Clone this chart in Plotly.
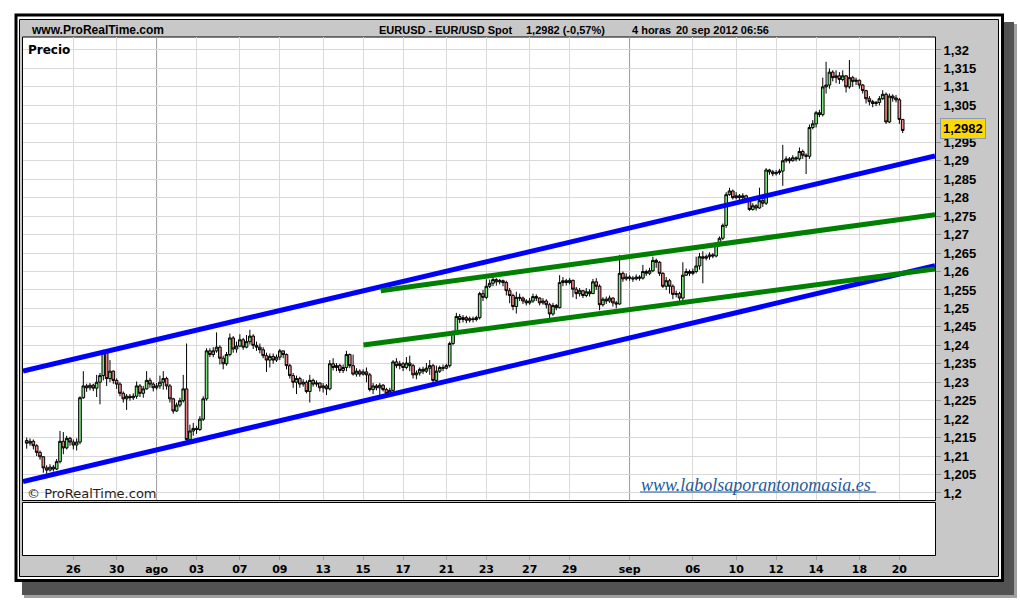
import plotly.graph_objects as go

# ---------------- data (EUR/USD, 4-hour candles) ----------------
first_open = 1.2142
close = [
    1.2135, 1.2140, 1.2128, 1.2110, 1.2098, 1.2068, 1.2062, 1.2070, 1.2065, 1.2085,
    1.2140, 1.2122, 1.2148, 1.2138, 1.2130, 1.2138, 1.2258, 1.2290, 1.2285, 1.2292,
    1.2284, 1.2300, 1.2318, 1.2380, 1.2310, 1.2330, 1.2305, 1.2295, 1.2270, 1.2255,
    1.2262, 1.2258, 1.2262, 1.2290, 1.2270, 1.2282, 1.2305, 1.2295, 1.2285, 1.2290,
    1.2300, 1.2310, 1.2290, 1.2255, 1.2222, 1.2238, 1.2250, 1.2282, 1.2145, 1.2168,
    1.2175, 1.2172, 1.2200, 1.2255, 1.2385, 1.2375, 1.2385, 1.2395, 1.2365, 1.2350,
    1.2375, 1.2420, 1.2390, 1.2398, 1.2415, 1.2395, 1.2410, 1.2425, 1.2400, 1.2395,
    1.2388, 1.2372, 1.2360, 1.2370, 1.2360, 1.2368, 1.2385, 1.2375, 1.2345, 1.2318,
    1.2300, 1.2310, 1.2295, 1.2300, 1.2275, 1.2305, 1.2295, 1.2298, 1.2285, 1.2290,
    1.2282, 1.2350, 1.2340, 1.2345, 1.2332, 1.2340, 1.2375, 1.2345, 1.2322, 1.2330,
    1.2322, 1.2328, 1.2320, 1.2280, 1.2290, 1.2285, 1.2292, 1.2280, 1.2270, 1.2278,
    1.2355, 1.2345, 1.2350, 1.2340, 1.2352, 1.2345, 1.2320, 1.2325, 1.2335, 1.2330,
    1.2338, 1.2345, 1.2305, 1.2330, 1.2340, 1.2338, 1.2345, 1.2405, 1.2435, 1.2478,
    1.2470, 1.2475, 1.2468, 1.2472, 1.2470, 1.2475, 1.2540, 1.2530, 1.2560, 1.2568,
    1.2578, 1.2572, 1.2575, 1.2570, 1.2548, 1.2535, 1.2505, 1.2530, 1.2528, 1.2520,
    1.2515, 1.2520, 1.2532, 1.2528, 1.2515, 1.2520, 1.2510, 1.2485, 1.2508, 1.2502,
    1.2570, 1.2575, 1.2570, 1.2576, 1.2552, 1.2540, 1.2548, 1.2535, 1.2545, 1.2540,
    1.2572, 1.2560, 1.2510, 1.2525, 1.2520, 1.2528, 1.2515, 1.2512, 1.2595, 1.2580,
    1.2585, 1.2582, 1.2580, 1.2585, 1.2582, 1.2600, 1.2595, 1.2602, 1.2630, 1.2625,
    1.2595, 1.2560, 1.2575, 1.2560, 1.2538, 1.2540, 1.2528, 1.2590, 1.2600, 1.2595,
    1.2600, 1.2615, 1.2640, 1.2636, 1.2640, 1.2645, 1.2642, 1.2672, 1.2690, 1.2725,
    1.2808, 1.2818, 1.2800, 1.2805, 1.2800, 1.2805, 1.2795, 1.2768, 1.2778, 1.2772,
    1.2792, 1.2785, 1.2875, 1.2870, 1.2865, 1.2868, 1.2872, 1.2900, 1.2905, 1.2900,
    1.2908, 1.2905, 1.2925, 1.2915, 1.2912, 1.2990, 1.3000, 1.3030, 1.3025, 1.3100,
    1.3105, 1.3140, 1.3125, 1.3130, 1.3120, 1.3130, 1.3100, 1.3125, 1.3115, 1.3118,
    1.3105, 1.3090, 1.3068, 1.3060, 1.3055, 1.3058, 1.3068, 1.3080, 1.3005, 1.3075,
    1.3070, 1.3065, 1.3012, 1.2982,
]
high = [
    1.2150, 1.2148, 1.2145, 1.2132, 1.2115, 1.2100, 1.2075, 1.2078, 1.2076, 1.2092,
    1.2168, 1.2165, 1.2155, 1.2152, 1.2145, 1.2148, 1.2262, 1.2330, 1.2296, 1.2298,
    1.2296, 1.2320, 1.2325, 1.2388, 1.2385, 1.2360, 1.2332, 1.2310, 1.2300, 1.2275,
    1.2268, 1.2268, 1.2270, 1.2302, 1.2295, 1.2290, 1.2330, 1.2312, 1.2300, 1.2298,
    1.2318, 1.2330, 1.2315, 1.2295, 1.2258, 1.2245, 1.2258, 1.2320, 1.2405, 1.2185,
    1.2190, 1.2182, 1.2208, 1.2262, 1.2392, 1.2392, 1.2395, 1.2435, 1.2400, 1.2372,
    1.2382, 1.2432, 1.2425, 1.2410, 1.2430, 1.2420, 1.2428, 1.2442, 1.2430, 1.2410,
    1.2405, 1.2395, 1.2380, 1.2378, 1.2378, 1.2375, 1.2390, 1.2385, 1.2378, 1.2350,
    1.2325, 1.2318, 1.2315, 1.2308, 1.2305, 1.2320, 1.2310, 1.2305, 1.2300, 1.2298,
    1.2295, 1.2360, 1.2365, 1.2352, 1.2350, 1.2348, 1.2385, 1.2378, 1.2375, 1.2338,
    1.2335, 1.2335, 1.2340, 1.2325, 1.2298, 1.2295, 1.2298, 1.2295, 1.2285, 1.2285,
    1.2360, 1.2365, 1.2358, 1.2355, 1.2368, 1.2372, 1.2350, 1.2332, 1.2340, 1.2342,
    1.2352, 1.2360, 1.2350, 1.2345, 1.2345, 1.2348, 1.2350, 1.2410, 1.2440, 1.2488,
    1.2485, 1.2482, 1.2480, 1.2478, 1.2478, 1.2480, 1.2545, 1.2550, 1.2579, 1.2578,
    1.2585, 1.2582, 1.2580, 1.2578, 1.2575, 1.2555, 1.2540, 1.2545, 1.2540, 1.2532,
    1.2525, 1.2528, 1.2540, 1.2538, 1.2530, 1.2528, 1.2525, 1.2515, 1.2515, 1.2512,
    1.2590, 1.2585, 1.2580, 1.2582, 1.2578, 1.2558, 1.2555, 1.2550, 1.2555, 1.2552,
    1.2580, 1.2582, 1.2565, 1.2530, 1.2532, 1.2535, 1.2530, 1.2520, 1.2645, 1.2600,
    1.2595, 1.2590, 1.2588, 1.2592, 1.2590, 1.2618, 1.2605, 1.2610, 1.2640, 1.2635,
    1.2628, 1.2598, 1.2585, 1.2580, 1.2565, 1.2548, 1.2545, 1.2625, 1.2608, 1.2605,
    1.2608, 1.2640, 1.2650, 1.2655, 1.2646, 1.2652, 1.2650, 1.2680, 1.2695, 1.2730,
    1.2815, 1.2827, 1.2822, 1.2815, 1.2810, 1.2812, 1.2808, 1.2798, 1.2785, 1.2782,
    1.2827, 1.2800, 1.2880, 1.2878, 1.2875, 1.2875, 1.2878, 1.2943, 1.2912, 1.2910,
    1.2915, 1.2912, 1.2936, 1.2930, 1.2920, 1.2998, 1.3010, 1.3035, 1.3038, 1.3125,
    1.3168, 1.3150, 1.3145, 1.3145, 1.3140, 1.3145, 1.3132, 1.3173, 1.3130, 1.3125,
    1.3120, 1.3108, 1.3092, 1.3075, 1.3065, 1.3062, 1.3075, 1.3091, 1.3085, 1.3082,
    1.3080, 1.3078, 1.3070, 1.3012,
]
low = [
    1.2120, 1.2128, 1.2118, 1.2100, 1.2090, 1.2055, 1.2052, 1.2058, 1.2058, 1.2062,
    1.2080, 1.2105, 1.2118, 1.2128, 1.2118, 1.2115, 1.2132, 1.2255, 1.2274, 1.2278,
    1.2276, 1.2260, 1.2240, 1.2305, 1.2290, 1.2300, 1.2296, 1.2282, 1.2262, 1.2245,
    1.2225, 1.2250, 1.2252, 1.2255, 1.2260, 1.2258, 1.2280, 1.2285, 1.2275, 1.2280,
    1.2282, 1.2280, 1.2280, 1.2245, 1.2215, 1.2220, 1.2232, 1.2245, 1.2140, 1.2140,
    1.2155, 1.2160, 1.2168, 1.2195, 1.2250, 1.2368, 1.2368, 1.2380, 1.2348, 1.2335,
    1.2345, 1.2370, 1.2380, 1.2380, 1.2395, 1.2388, 1.2392, 1.2402, 1.2390, 1.2385,
    1.2378, 1.2365, 1.2328, 1.2340, 1.2350, 1.2355, 1.2360, 1.2365, 1.2335, 1.2310,
    1.2285, 1.2268, 1.2285, 1.2288, 1.2270, 1.2245, 1.2288, 1.2288, 1.2275, 1.2272,
    1.2265, 1.2278, 1.2332, 1.2330, 1.2325, 1.2325, 1.2330, 1.2338, 1.2318, 1.2315,
    1.2315, 1.2318, 1.2300, 1.2275, 1.2268, 1.2278, 1.2265, 1.2275, 1.2262, 1.2265,
    1.2270, 1.2338, 1.2335, 1.2330, 1.2335, 1.2330, 1.2310, 1.2308, 1.2318, 1.2322,
    1.2325, 1.2320, 1.2290, 1.2295, 1.2325, 1.2330, 1.2335, 1.2340, 1.2400, 1.2430,
    1.2460, 1.2462, 1.2460, 1.2462, 1.2462, 1.2465, 1.2470, 1.2520, 1.2525, 1.2555,
    1.2560, 1.2562, 1.2565, 1.2560, 1.2535, 1.2514, 1.2495, 1.2486, 1.2520, 1.2512,
    1.2508, 1.2510, 1.2515, 1.2520, 1.2508, 1.2510, 1.2500, 1.2468, 1.2480, 1.2495,
    1.2500, 1.2560, 1.2562, 1.2565, 1.2530, 1.2525, 1.2532, 1.2528, 1.2530, 1.2532,
    1.2540, 1.2550, 1.2495, 1.2505, 1.2512, 1.2515, 1.2505, 1.2500, 1.2510, 1.2572,
    1.2575, 1.2575, 1.2572, 1.2576, 1.2575, 1.2578, 1.2588, 1.2590, 1.2598, 1.2610,
    1.2588, 1.2555, 1.2550, 1.2540, 1.2525, 1.2530, 1.2516, 1.2522, 1.2588, 1.2588,
    1.2590, 1.2595, 1.2605, 1.2568, 1.2630, 1.2632, 1.2636, 1.2638, 1.2668, 1.2685,
    1.2718, 1.2805, 1.2795, 1.2795, 1.2792, 1.2795, 1.2788, 1.2764, 1.2765, 1.2765,
    1.2770, 1.2775, 1.2780, 1.2862, 1.2858, 1.2860, 1.2862, 1.2832, 1.2895, 1.2893,
    1.2898, 1.2898, 1.2900, 1.2905, 1.2864, 1.2905, 1.2985, 1.2990, 1.3018, 1.3020,
    1.3082, 1.3095, 1.3115, 1.3110, 1.3108, 1.3115, 1.3085, 1.3095, 1.3100, 1.3105,
    1.3095, 1.3082, 1.3055, 1.3050, 1.3045, 1.3048, 1.3050, 1.3065, 1.3000, 1.3002,
    1.3060, 1.3058, 1.3000, 1.2975,
]
candle_index = list(range(len(close)))
open_ = [first_open] + close[:-1]

# x-axis: candle index of the first candle of each labelled day
tick_pos = [14, 27, 39, 51, 64, 76, 89, 101, 113, 126, 138, 151, 163, 181, 200, 213, 225, 237, 250, 262]
tick_labels = ["26", "30", "ago", "03", "07", "09", "13", "15", "17", "21", "23", "27", "29",
               "sep", "06", "10", "12", "14", "18", "20"]
month_sep_pos = [39, 181]

price_ticks = [1.200, 1.205, 1.210, 1.215, 1.220, 1.225, 1.230, 1.235, 1.240, 1.245, 1.250,
               1.255, 1.260, 1.265, 1.270, 1.275, 1.280, 1.285, 1.290, 1.295, 1.300, 1.305,
               1.310, 1.315, 1.320]
price_tick_labels = ["1,2", "1,205", "1,21", "1,215", "1,22", "1,225", "1,23", "1,235", "1,24",
                     "1,245", "1,25", "1,255", "1,26", "1,265", "1,27", "1,275", "1,28", "1,285",
                     "1,29", "1,295", "1,3", "1,305", "1,31", "1,315", "1,32"]

# trend lines (candle index, price)
blue_upper_x, blue_upper_y = [-1.1, 272.7], [1.2330, 1.2913]
blue_lower_x, blue_lower_y = [-1.1, 272.7], [1.2031, 1.2616]
green_upper_x, green_upper_y = [106.3, 272.7], [1.2548, 1.2754]
green_lower_x, green_lower_y = [101.1, 272.7], [1.2401, 1.2607]

last_price = 1.2982

# ---------------- figure ----------------
W, H = 1020, 600
def px(x):
    return x / W
def py(y):
    return 1 - y / H

X_RANGE = [-1.11, 272.7]
Y_RANGE = [1.1981, 1.32352]

fig = go.Figure()

for xs, ys, col in [(blue_upper_x, blue_upper_y, "#0000ff"),
                    (blue_lower_x, blue_lower_y, "#0000ff"),
                    (green_upper_x, green_upper_y, "#008000"),
                    (green_lower_x, green_lower_y, "#008000")]:
    fig.add_trace(go.Scatter(x=xs, y=ys, mode="lines", line=dict(color=col, width=5),
                             hoverinfo="skip", xaxis="x", yaxis="y"))

fig.add_trace(go.Candlestick(
    x=candle_index, open=open_, high=high, low=low, close=close,
    increasing=dict(line=dict(color="black", width=1), fillcolor="#7fe57f"),
    decreasing=dict(line=dict(color="black", width=1), fillcolor="#f08484"),
    whiskerwidth=0, xaxis="x", yaxis="y", hoverinfo="skip",
))

# empty trace so that the lower (empty) panel and its date axis are created
fig.add_trace(go.Scatter(x=[], y=[], xaxis="x2", yaxis="y2", mode="lines", hoverinfo="skip"))

grid_pos = [p for p in tick_pos if p not in month_sep_pos]

shapes = [
    # drop shadow
    dict(type="rect", xref="paper", yref="paper", x0=px(24), x1=px(1017), y0=py(598), y1=py(24),
         fillcolor="#a0a0a0", line=dict(width=0), layer="below"),
    dict(type="rect", xref="paper", yref="paper", x0=px(22), x1=px(1014), y0=py(595), y1=py(22),
         fillcolor="#525252", line=dict(width=0), layer="below"),
    # double frame
    dict(type="rect", xref="paper", yref="paper", x0=px(16), x1=px(1002.5), y0=py(580.5), y1=py(15),
         fillcolor="white", line=dict(color="black", width=3), layer="below"),
    dict(type="rect", xref="paper", yref="paper", x0=px(19.5), x1=px(998.5), y0=py(576.5), y1=py(19.5),
         fillcolor="#c8c8c8", line=dict(color="black", width=1), layer="below"),
    # price panel and lower (empty) panel
    dict(type="rect", xref="paper", yref="paper", x0=px(22.5), x1=px(935.5), y0=py(500.5), y1=py(37),
         fillcolor="white", line=dict(color="black", width=1), layer="below"),
    dict(type="rect", xref="paper", yref="paper", x0=px(22.5), x1=px(935.5), y0=py(555.5), y1=py(502.5),
         fillcolor="white", line=dict(color="black", width=1), layer="below"),
    # underline of the website text
    dict(type="line", xref="paper", yref="paper", x0=px(640), x1=px(876), y0=py(492), y1=py(492),
         line=dict(color="#1f5a9a", width=1), layer="above"),
]
for p in month_sep_pos:
    shapes.append(dict(type="line", xref="x", yref="paper", x0=p, x1=p, y0=py(500), y1=py(37),
                       line=dict(color="#9a9a9a", width=1), layer="below"))

hdr_font = dict(family="Liberation Sans, Arial", size=12, color="black", weight="bold")
hdr_font_s = dict(family="Liberation Sans, Arial", size=11, color="black", weight="bold")
annotations = [
    dict(text="www.ProRealTime.com", x=px(29), y=py(29.5), xanchor="left", yanchor="middle", font=hdr_font),
    dict(text="EURUSD - EUR/USD Spot", x=px(377), y=py(29.5), xanchor="left", yanchor="middle", font=hdr_font_s),
    dict(text=f"{last_price:.4f}".replace(".", ",") + " (-0,57%)", x=px(524), y=py(29.5),
         xanchor="left", yanchor="middle", font=hdr_font_s),
    dict(text="4 horas", x=px(630), y=py(29.5), xanchor="left", yanchor="middle", font=hdr_font_s),
    dict(text="20 sep 2012 06:56", x=px(674), y=py(29.5), xanchor="left", yanchor="middle", font=hdr_font_s),
    dict(text="Precio", x=px(26), y=py(49.5), xanchor="left", yanchor="middle",
         font=dict(family="DejaVu Sans", size=12, color="black", weight="bold")),
    dict(text="© ProRealTime.com", x=px(25), y=py(493), xanchor="left", yanchor="middle",
         font=dict(family="DejaVu Sans", size=13, color="#1e1e1e")),
    dict(text="<i>www.labolsaporantonomasia.es</i>", x=px(639), y=py(485), xanchor="left", yanchor="middle",
         font=dict(family="Liberation Serif, serif", size=18, color="#1f5a9a")),
    dict(text="<b>" + f"{last_price:.4f}".replace(".", ",") + "</b>", x=px(940), xref="paper",
         y=last_price, yref="y", yshift=2, xanchor="left", yanchor="middle",
         bgcolor="#ffd800", bordercolor="#8a9bb0", borderwidth=1, borderpad=2,
         font=dict(family="Liberation Sans, Arial", size=13, color="black")),
]
for a in annotations:
    a.setdefault("xref", "paper")
    a.setdefault("yref", "paper")
    a["showarrow"] = False

fig.update_layout(
    width=W, height=H, autosize=False,
    margin=dict(l=0, r=0, t=0, b=0),
    paper_bgcolor="white", plot_bgcolor="white",
    showlegend=False,
    boxgap=0.12, boxgroupgap=0.1,
    xaxis=dict(domain=[px(23), px(935)], range=X_RANGE, anchor="y",
               tickvals=grid_pos, showticklabels=False, ticks="",
               showgrid=True, gridcolor="#d9d9d9", gridwidth=1,
               zeroline=False, showline=False, rangeslider=dict(visible=False), fixedrange=True),
    yaxis=dict(domain=[py(500), py(37)], range=Y_RANGE, anchor="x", side="right",
               tickvals=price_ticks, ticktext=price_tick_labels,
               ticks="outside", ticklen=5, tickcolor="#8c8c8c",
               tickfont=dict(family="Liberation Sans, Arial", size=13, color="black", weight="bold"),
               showgrid=True, gridcolor="#d9d9d9", gridwidth=1, zeroline=False, showline=False,
               fixedrange=True),
    xaxis2=dict(domain=[px(23), px(935)], range=X_RANGE, anchor="y2",
                tickvals=tick_pos, ticktext=tick_labels, ticks="outside", ticklen=4,
                tickcolor="#a0a0a0",
                tickfont=dict(family="DejaVu Sans", size=11, color="black", weight="bold"),
                showgrid=False, zeroline=False, showline=False, fixedrange=True),
    yaxis2=dict(domain=[py(555), py(503)], range=[0, 1], anchor="x2", visible=False, fixedrange=True),
    shapes=shapes,
    annotations=annotations,
)

fig.write_html("out.html", config={"displayModeBar": False},
               post_script="document.body.style.margin='0px';")
